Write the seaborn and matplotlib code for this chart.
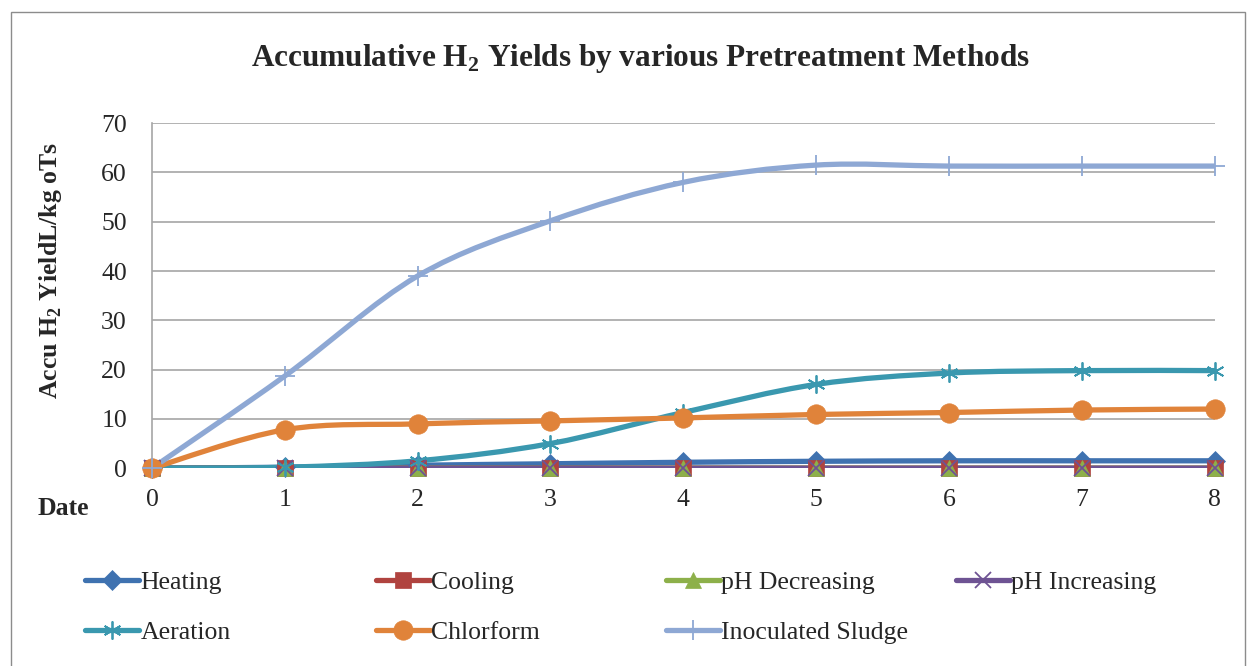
import numpy as np
import matplotlib
matplotlib.use("Agg")
import matplotlib.pyplot as plt
import seaborn as sns
from matplotlib.path import Path
from matplotlib.patches import PathPatch, Rectangle
from matplotlib.lines import Line2D

# data
days = [0, 1, 2, 3, 4, 5, 6, 7, 8]
heating = [0, 0.2, 0.6, 0.9, 1.2, 1.4, 1.5, 1.5, 1.5]
cooling = [0, 0, 0, 0, 0, 0, 0, 0, 0]
ph_decreasing = [0, 0, 0, 0, 0, 0, 0, 0, 0]
ph_increasing = [0, 0, 0, 0, 0, 0, 0, 0, 0]
aeration = [0, 0.2, 1.5, 5.0, 11.3, 17.0, 19.3, 19.8, 19.8]
chlorform = [0, 7.8, 9.0, 9.6, 10.2, 10.9, 11.3, 11.8, 12.0]
inoculated = [0, 18.7, 39.0, 50.2, 58.0, 61.5, 61.3, 61.3, 61.3]

series_names = ["Heating", "Cooling", "pH Decreasing", "pH Increasing",
                "Aeration", "Chlorform", "Inoculated Sludge"]
series_values = [heating, cooling, ph_decreasing, ph_increasing,
                 aeration, chlorform, inoculated]
colors = ["#3F72B0", "#B0433F", "#8DB04A", "#6E5393", "#3A98AF", "#E0833A", "#8EA8D4"]
markers = ["D", "s", "^", "x", (6, 2, 0), "o", "+"]
msizes = [10, 12, 11, 12, 13, 14, 14]

sns.set_style("white")
plt.rcParams["font.family"] = ["Liberation Serif", "DejaVu Serif"]
plt.rcParams["mathtext.fontset"] = "custom"
plt.rcParams["mathtext.rm"] = "Liberation Serif"
plt.rcParams["mathtext.bf"] = "Liberation Serif:bold"


def smooth_path(xs, ys):
    # Excel-style smoothed line: cubic Bezier through every data point
    pts = np.column_stack([xs, ys]).astype(float)
    ext = np.vstack([pts[0], pts, pts[-1]])
    verts = [pts[0]]
    codes = [Path.MOVETO]
    for i in range(len(pts) - 1):
        p0, p1, p2, p3 = ext[i], ext[i + 1], ext[i + 2], ext[i + 3]
        verts += [p1 + (p2 - p0) / 6, p2 - (p3 - p1) / 6, p2]
        codes += [Path.CURVE4] * 3
    return Path(verts, codes)


fig = plt.figure(figsize=(12.56, 6.66), dpi=100)
ax = fig.add_axes([0.121, 0.297, 0.846, 0.518])

handles = []
for name, vals, c, m, ms in zip(series_names, series_values, colors, markers, msizes):
    ax.add_patch(PathPatch(smooth_path(days, vals), fill=False, edgecolor=c,
                           lw=3.8, capstyle="round", joinstyle="round", zorder=3))
    mew = 1.3 if m in ["+", "x"] or isinstance(m, tuple) else 0.5
    sns.lineplot(x=days, y=vals, ax=ax, color=c, marker=m, markersize=ms,
                 linestyle="none", markeredgecolor=c, markeredgewidth=mew,
                 zorder=4, clip_on=False, legend=False)
    handles.append(Line2D([], [], color=c, lw=3.8, marker=m, markersize=ms,
                          markeredgecolor=c, markeredgewidth=mew))

ax.set_xlim(0, 8)
ax.set_ylim(0, 70)
ax.set_xticks(days)
ax.set_yticks(range(0, 71, 10))
ax.yaxis.grid(True, color="#A6A6A6", lw=1.2)
ax.xaxis.grid(False)
for s in ["top", "right", "bottom"]:
    ax.spines[s].set_visible(False)
ax.spines["left"].set_color("#A6A6A6")
ax.spines["left"].set_linewidth(1.2)
ax.tick_params(axis="y", labelsize=18.5, length=4, color="#A6A6A6", pad=14)
ax.tick_params(axis="x", labelsize=18.5, length=0, pad=15)
ax.set_xlabel("")
ax.set_ylabel(r"Accu H$_\mathbf{2}$ YieldL/kg oTs", fontsize=18.5, fontweight="bold")
ax.yaxis.set_label_coords(-0.083, 0.574)

fig.text(0.51, 0.912, r"Accumulative H$_\mathbf{2}$ Yields by various Pretreatment Methods",
         ha="center", va="center", fontsize=22.5, fontweight="bold")
fig.text(0.030, 0.237, "Date", ha="left", va="center", fontsize=18.5, fontweight="bold")

# legend, four columns on a fixed pitch
col_x = [0.068, 0.299, 0.530, 0.761]
for i, x in enumerate(col_x):
    idx = [j for j in (i, i + 4) if j < len(handles)]
    fig.legend([handles[j] for j in idx], [series_names[j] for j in idx],
               loc="upper left", bbox_to_anchor=(x, 0.142), frameon=False,
               fontsize=18.5, handlelength=2.1, handletextpad=0.05,
               labelspacing=1.05, borderaxespad=0, borderpad=0)

fig.patches.append(Rectangle((0.009, -0.01), 0.982, 0.992, transform=fig.transFigure,
                             fill=False, edgecolor="#8C8C8C", lw=1))

fig.savefig("out.png", dpi=100)
